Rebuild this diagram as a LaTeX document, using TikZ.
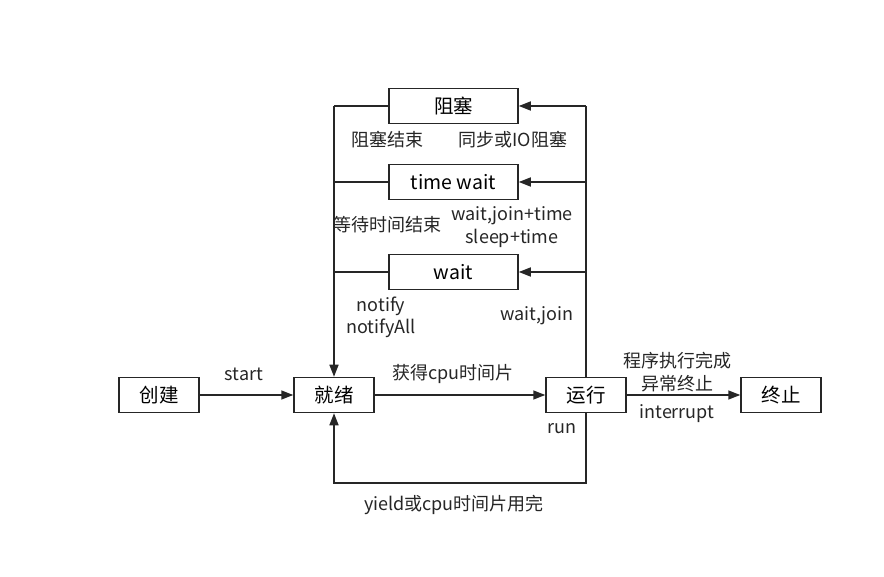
\documentclass[tikz,border=0pt]{standalone}
\usepackage{fontspec}
\setmainfont{Noto Sans CJK SC}
\usetikzlibrary{arrows.meta}
\begin{document}
\begin{tikzpicture}[x=1pt,y=-1pt,
  box/.style={draw=black!85,line width=1.5pt,minimum height=35pt,inner sep=0pt,font=\fontsize{19.5}{22}\selectfont},
  sbox/.style={box,minimum width=80pt},
  wbox/.style={box,minimum width=129pt},
  lbl/.style={font=\fontsize{18}{21}\selectfont,inner sep=0pt,align=center,text=black!85},
  conn/.style={draw=black!85,line width=1.5pt},
  arr/.style={conn,-{Triangle[length=12pt,width=9pt]}}]
\useasboundingbox[fill=white] (0,0) rectangle (884,577);
\node[sbox] (create) at (159,395) {创建};
\node[sbox] (ready) at (334,395) {就绪};
\node[sbox] (run) at (586,395) {运行};
\node[sbox] (term) at (781,395) {终止};
\node[wbox] (block) at (453.5,106) {阻塞};
\node[wbox] (twait) at (453.5,182) {time wait};
\node[wbox] (wait) at (453.5,272) {wait};
\coordinate (lt) at (334,106);
\coordinate (rt) at (586,106);
\coordinate (lb) at (334,483);
\coordinate (rb) at (586,483);
% left side returns
\draw[conn] (block.west) -- (lt);
\draw[conn] (twait.west) -- (twait.west -| lt);
\draw[conn] (wait.west) -- (wait.west -| lt);
\draw[arr] (lt) -- (ready.north);
% right side
\draw[conn] (run.north) -- (rt);
\draw[arr] (rt) -- (block.east);
\draw[arr] (twait.east -| rt) -- (twait.east);
\draw[arr] (wait.east -| rt) -- (wait.east);
% bottom loop
\draw[arr] (run.south) -- (rb) -- (lb) -- (ready.south);
% horizontal
\draw[arr] (create) -- (ready);
\draw[arr] (ready) -- (run);
\draw[arr] (run) -- (term);
% labels
\node[lbl] at (244,374) {start};
\node[lbl] at (453,374) {获得cpu时间片};
\node[lbl] at (387,140) {阻塞结束};
\node[lbl] at (513,140) {同步或IO阻塞};
\node[lbl] at (387,225) {等待时间结束};
\node[lbl] at (512,216) {wait,join+time};
\node[lbl] at (512,238) {sleep+time};
\node[lbl] at (381,306) {notify};
\node[lbl] at (381,328) {notifyAll};
\node[lbl] at (537,316) {wait,join};
\node[lbl] at (677,361) {程序执行完成};
\node[lbl] at (677,384) {异常终止};
\node[lbl] at (677,414) {interrupt};
\node[lbl] at (562,429) {run};
\node[lbl] at (454,505) {yield或cpu时间片用完};
\end{tikzpicture}
\end{document}
